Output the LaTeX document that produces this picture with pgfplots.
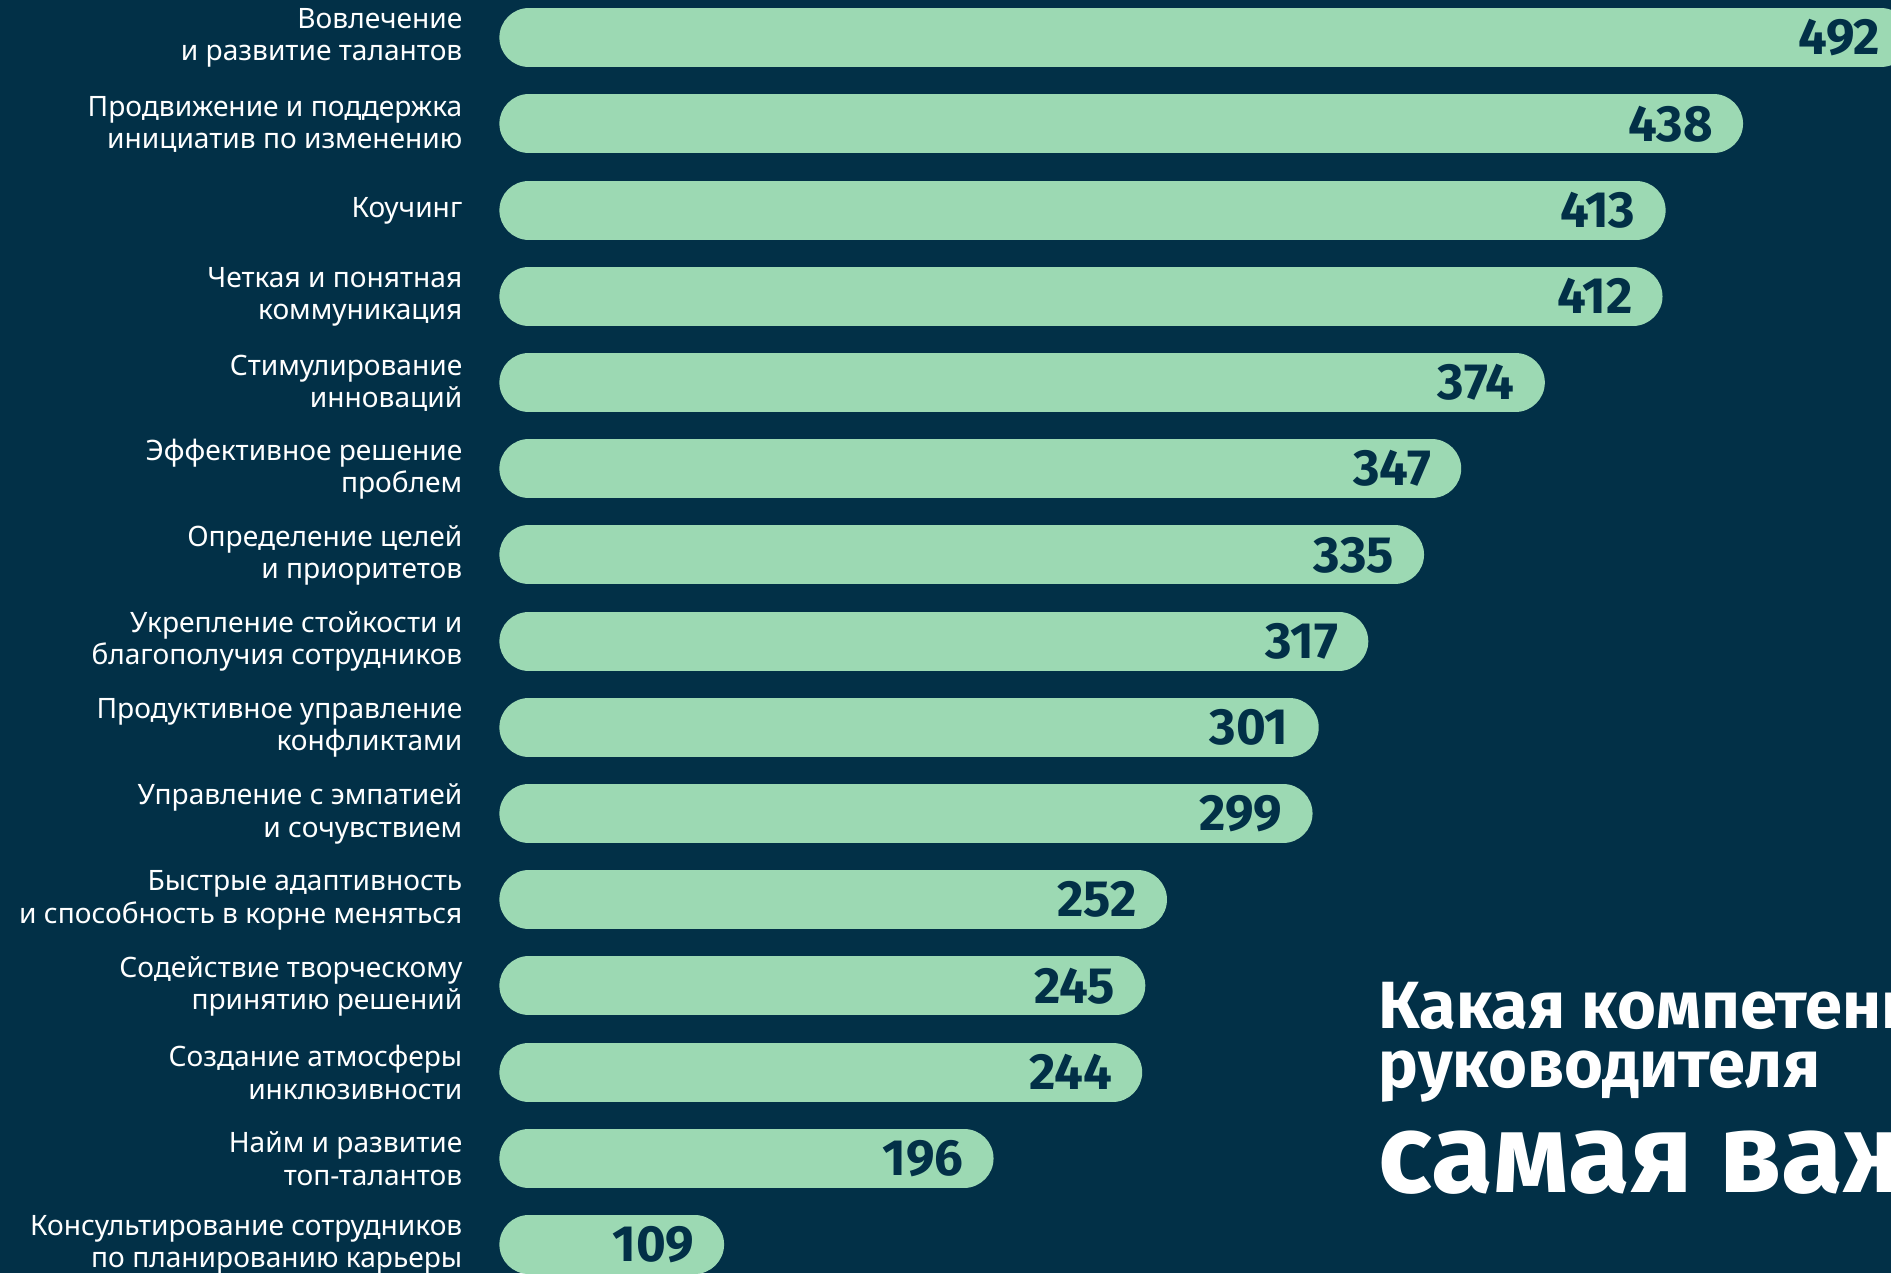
\documentclass[border=0pt]{standalone}
\usepackage{pgfplots}
\usepackage{pgfplotstable}
\pgfplotsset{compat=1.18}
\usepackage{fontspec}
\setmainfont{Noto Sans}
\newfontfamily\fira{Fira Sans}
\definecolor{bg}{HTML}{023047}
\definecolor{barc}{HTML}{9CD9B3}
\pgfplotstableread{
k v
15 492
14 438
13 413
12 412
11 374
10 347
9 335
8 317
7 301
6 299
5 252
4 245
3 244
2 196
1 109
}\data
\begin{document}
\begin{tikzpicture}[x=1cm,y=1cm]
\useasboundingbox (0,0) rectangle (18.91,12.73);
\clip (0,0) rectangle (18.91,12.73);
\fill[bg] (0,0) rectangle (18.91,12.73);
\begin{axis}[
  at={(5cm,0cm)}, anchor=south west,
  scale only axis, width=13.91cm, height=12.73cm,
  xmin=46.17, xmax=495.3, ymin=0.6694, ymax=15.437,
  clip=false,
  axis line style={draw=none},
  major tick length=0pt,
  xtick=\empty,
  ytick={1,...,15},
  yticklabels={
    {Консультирование сотрудников\\по планированию карьеры},
    {Найм и развитие\\топ-талантов},
    {Создание атмосферы\\инклюзивности},
    {Содействие творческому\\принятию решений},
    {Быстрые адаптивность\\и способность в корне меняться},
    {Управление с эмпатией\\и сочувствием},
    {Продуктивное управление\\конфликтами},
    {Укрепление стойкости и\\благополучия сотрудников},
    {Определение целей\\и приоритетов},
    {Эффективное решение\\проблем},
    {Стимулирование\\инноваций},
    {Четкая и понятная\\коммуникация},
    {Коучинг},
    {Продвижение и поддержка\\инициатив по изменению},
    {Вовлечение\\и развитие талантов}
  },
  yticklabel style={align=right, text=white, inner sep=0pt, xshift=-0.37cm, yshift=-0.005cm,
    font=\fontsize{8.0}{9.2}\selectfont},
]
\addplot[barc, line width=0.59cm, line cap=round] coordinates {(55.5,15) (492,15)};
\addplot[barc, line width=0.59cm, line cap=round] coordinates {(55.5,14) (438,14)};
\addplot[barc, line width=0.59cm, line cap=round] coordinates {(55.5,13) (413,13)};
\addplot[barc, line width=0.59cm, line cap=round] coordinates {(55.5,12) (412,12)};
\addplot[barc, line width=0.59cm, line cap=round] coordinates {(55.5,11) (374,11)};
\addplot[barc, line width=0.59cm, line cap=round] coordinates {(55.5,10) (347,10)};
\addplot[barc, line width=0.59cm, line cap=round] coordinates {(55.5,9) (335,9)};
\addplot[barc, line width=0.59cm, line cap=round] coordinates {(55.5,8) (317,8)};
\addplot[barc, line width=0.59cm, line cap=round] coordinates {(55.5,7) (301,7)};
\addplot[barc, line width=0.59cm, line cap=round] coordinates {(55.5,6) (299,6)};
\addplot[barc, line width=0.59cm, line cap=round] coordinates {(55.5,5) (252,5)};
\addplot[barc, line width=0.59cm, line cap=round] coordinates {(55.5,4) (245,4)};
\addplot[barc, line width=0.59cm, line cap=round] coordinates {(55.5,3) (244,3)};
\addplot[barc, line width=0.59cm, line cap=round] coordinates {(55.5,2) (196,2)};
\addplot[barc, line width=0.59cm, line cap=round] coordinates {(55.5,1) (109,1)};
\addplot[draw=none, mark=none, nodes near coords, point meta=explicit symbolic,
  nodes near coords style={anchor=east, inner sep=0pt, text=bg,
    font=\fira\fontsize{14.5}{16}\bfseries\selectfont}]
  table[x=v, y=k, meta=v] {\data};
\end{axis}
\node[anchor=base west, inner sep=0pt, text=white, font=\fira\fontsize{19}{20}\bfseries\selectfont] at (13.78,2.44) {Какая компетенция};
\node[anchor=base west, inner sep=0pt, text=white, font=\fira\fontsize{19}{20}\bfseries\selectfont] at (13.78,1.85) {руководителя};
\node[anchor=base west, inner sep=0pt, text=white, font=\fira\fontsize{32}{34}\bfseries\selectfont] at (13.78,0.81) {самая важная?};
\end{tikzpicture}
\end{document}
